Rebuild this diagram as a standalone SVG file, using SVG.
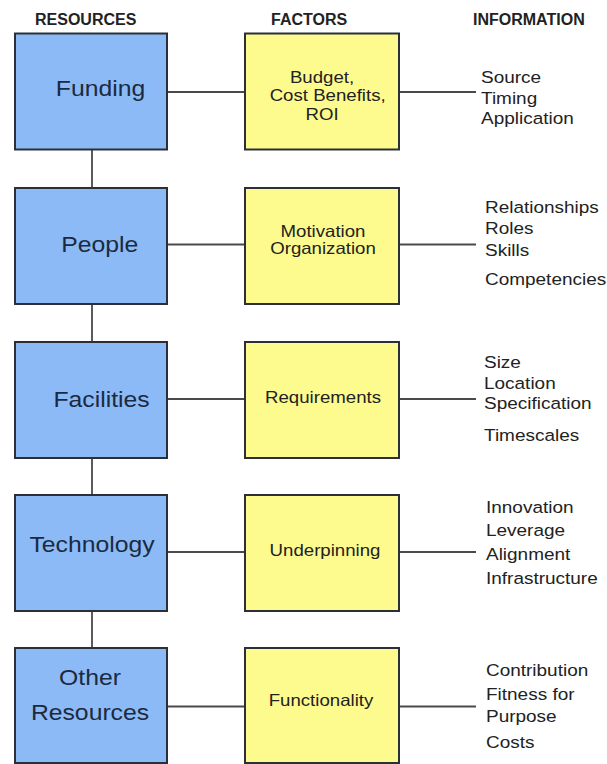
<svg xmlns="http://www.w3.org/2000/svg" width="607" height="764" viewBox="0 0 607 764">
<style>
.res{fill:#8cbaf6;stroke:#2b3038;stroke-width:2}
.fac{fill:#fdfb8e;stroke:#2b3038;stroke-width:2}
.hdr{font-family:"Liberation Sans",Arial,sans-serif;font-weight:bold;font-size:16px;fill:#222}
.rt{font-family:"Liberation Sans",Arial,sans-serif;font-size:22.5px;fill:#1b2a40;text-anchor:middle}
.ft{font-family:"Liberation Sans",Arial,sans-serif;font-size:16.5px;fill:#222;text-anchor:middle}
.it{font-family:"Liberation Sans",Arial,sans-serif;font-size:16.5px;fill:#222}
.cn{stroke:#4a4a4a;stroke-width:1.8;fill:none}
</style>
<rect width="607" height="764" fill="#fff"/>
<g id="headers">
<text class="hdr" x="35" y="25">RESOURCES</text>
<text class="hdr" x="271" y="25">FACTORS</text>
<text class="hdr" x="473" y="25">INFORMATION</text>
</g>
<g id="connectors">
<line class="cn" x1="92" y1="150" x2="92" y2="188"/>
<line class="cn" x1="92" y1="304" x2="92" y2="342"/>
<line class="cn" x1="92" y1="458" x2="92" y2="495"/>
<line class="cn" x1="92" y1="611" x2="92" y2="648"/>
<line class="cn" x1="167" y1="92" x2="245" y2="92"/>
<line class="cn" x1="167" y1="244.5" x2="245" y2="244.5"/>
<line class="cn" x1="167" y1="399" x2="245" y2="399"/>
<line class="cn" x1="167" y1="552" x2="245" y2="552"/>
<line class="cn" x1="167" y1="706.5" x2="245" y2="706.5"/>
<line class="cn" x1="399" y1="92" x2="476" y2="92"/>
<line class="cn" x1="399" y1="244.5" x2="476" y2="244.5"/>
<line class="cn" x1="399" y1="399" x2="476" y2="399"/>
<line class="cn" x1="399" y1="552" x2="476" y2="552"/>
<line class="cn" x1="399" y1="706.5" x2="476" y2="706.5"/>
</g>
<g id="funding">
<rect class="res" x="15" y="33.5" width="152" height="116"/>
<g transform="translate(100.5 0) scale(1.1 1)"><text class="rt" x="0" y="96">Funding</text></g>
</g>
<g id="people">
<rect class="res" x="15" y="188" width="152" height="116"/>
<g transform="translate(99.7 0) scale(1.1 1)"><text class="rt" x="0" y="252">People</text></g>
</g>
<g id="facilities">
<rect class="res" x="15" y="342" width="152" height="116"/>
<g transform="translate(101.6 0) scale(1.1 1)"><text class="rt" x="0" y="407">Facilities</text></g>
</g>
<g id="technology">
<rect class="res" x="15" y="495" width="152" height="116"/>
<g transform="translate(92 0) scale(1.1 1)"><text class="rt" x="0" y="552">Technology</text></g>
</g>
<g id="other-resources">
<rect class="res" x="15" y="648" width="152" height="115"/>
<g transform="translate(90 0) scale(1.1 1)"><text class="rt" x="0" y="685">Other</text><text class="rt" x="0" y="720">Resources</text></g>
</g>
<g id="budget">
<rect class="fac" x="245" y="33.5" width="154" height="116"/>
<g transform="translate(322 0) scale(1.13 1)"><text class="ft" x="0" y="83">Budget,</text><text class="ft" x="5" y="101.5">Cost Benefits,</text><text class="ft" x="0" y="120">ROI</text></g>
</g>
<g id="motivation">
<rect class="fac" x="245" y="188" width="154" height="116"/>
<g transform="translate(323 0) scale(1.13 1)"><text class="ft" x="0" y="237">Motivation</text><text class="ft" x="0" y="254">Organization</text></g>
</g>
<g id="requirements">
<rect class="fac" x="245" y="342" width="154" height="116"/>
<g transform="translate(323 0) scale(1.13 1)"><text class="ft" x="0" y="403">Requirements</text></g>
</g>
<g id="underpinning">
<rect class="fac" x="245" y="495" width="154" height="116"/>
<g transform="translate(325 0) scale(1.13 1)"><text class="ft" x="0" y="556">Underpinning</text></g>
</g>
<g id="functionality">
<rect class="fac" x="245" y="648" width="154" height="115"/>
<g transform="translate(321 0) scale(1.13 1)"><text class="ft" x="0" y="706">Functionality</text></g>
</g>
<g id="info-funding" transform="translate(481 0) scale(1.15 1)">
<text class="it" x="0" y="83">Source</text>
<text class="it" x="0" y="104">Timing</text>
<text class="it" x="0" y="124.5">Application</text>
</g>
<g id="info-people" transform="translate(485 0) scale(1.15 1)">
<text class="it" x="0" y="213">Relationships</text>
<text class="it" x="0" y="234">Roles</text>
<text class="it" x="0" y="256">Skills</text>
<text class="it" x="0" y="285">Competencies</text>
</g>
<g id="info-facilities" transform="translate(484 0) scale(1.15 1)">
<text class="it" x="0" y="368">Size</text>
<text class="it" x="0" y="389">Location</text>
<text class="it" x="0" y="409">Specification</text>
<text class="it" x="0" y="441">Timescales</text>
</g>
<g id="info-technology" transform="translate(486 0) scale(1.15 1)">
<text class="it" x="0" y="513">Innovation</text>
<text class="it" x="0" y="536.5">Leverage</text>
<text class="it" x="0" y="560">Alignment</text>
<text class="it" x="0" y="584.5">Infrastructure</text>
</g>
<g id="info-other" transform="translate(486 0) scale(1.15 1)">
<text class="it" x="0" y="676.5">Contribution</text>
<text class="it" x="0" y="700">Fitness for</text>
<text class="it" x="0" y="722.5">Purpose</text>
<text class="it" x="0" y="748">Costs</text>
</g>
</svg>
